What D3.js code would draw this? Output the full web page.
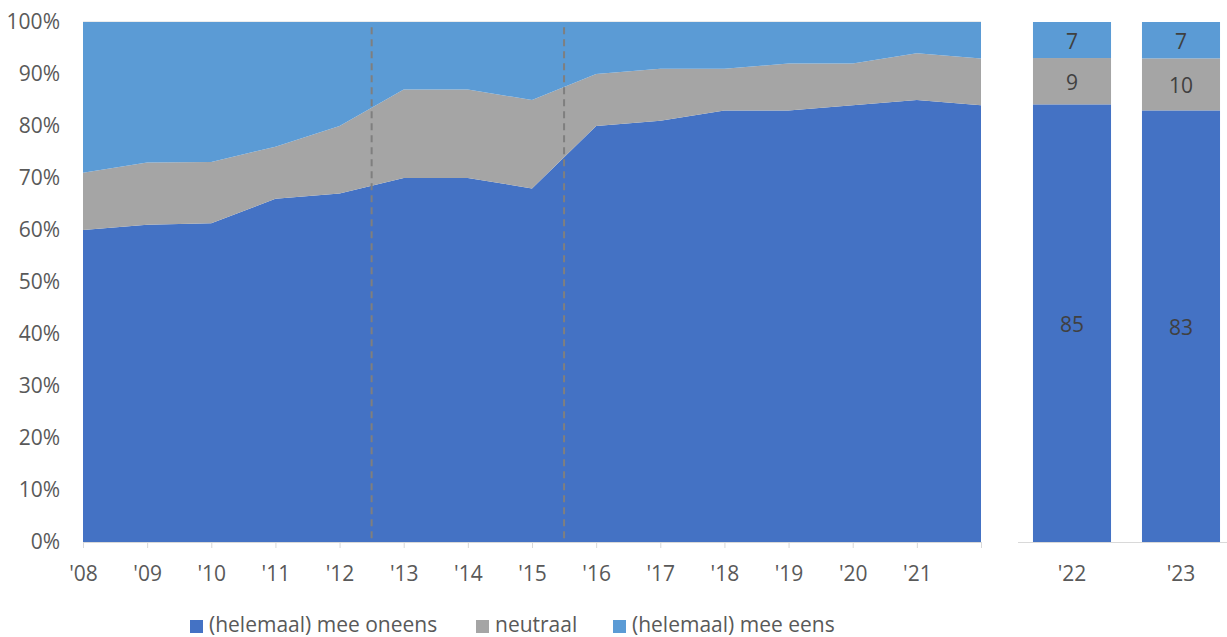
<!DOCTYPE html>
<html><head><meta charset="utf-8">
<script src="https://cdn.jsdelivr.net/npm/d3@7"></script>
<style>html,body{margin:0;padding:0;background:#fff;}svg{display:block;}text{font-family:"Open Sans",sans-serif;}</style>
</head><body>
<svg id="chart" width="1227" height="637"></svg>
<script>
// ---- data ----
const areaYears = ["2008","2009","2010","2011","2012","2013","2014","2015","2016","2017","2018","2019","2020","2021","2022"];
const areaTickLabels = ["'08","'09","'10","'11","'12","'13","'14","'15","'16","'17","'18","'19","'20","'21",""];
const areaOneens   = [60, 61, 61.3, 66, 67, 70, 70, 68, 80, 81, 83, 83, 84, 85, 84];
const areaNeutraal = [11, 12, 11.8, 10, 13, 17, 17, 17, 10, 10, 8, 9, 8, 9, 9];
const areaEens     = [29, 27, 26.9, 24, 20, 13, 13, 15, 10, 9, 9, 8, 8, 6, 7];
const barYears = ["'22","'23"];
const barOneens = [85, 83];
const barNeutraal = [9, 10];
const barEens = [7, 7];
const seriesNames = ["(helemaal) mee oneens","neutraal","(helemaal) mee eens"];
const yTicks = [0,0.1,0.2,0.3,0.4,0.5,0.6,0.7,0.8,0.9,1];
const breakAfter = ["2012","2015"]; // dashed separators between these and next year

const colors = ["#4472C4","#A5A5A5","#5B9BD5"];
const keys = ["oneens","neutraal","eens"];
const textCol = "#595959";
const fs = 21;

const svg = d3.select("#chart");
const y = d3.scaleLinear().domain([0,1]).range([542,22]);
const x = d3.scalePoint().domain(areaYears).range([83,981]);
const xb = d3.scaleBand().domain(barYears).range([1017.5,1235.5]).paddingInner(0.284).paddingOuter(0.142);

// area data
const areaData = areaYears.map((yr,i)=>({year:yr, oneens:areaOneens[i], neutraal:areaNeutraal[i], eens:areaEens[i]}));
const stack = d3.stack().keys(keys).offset(d3.stackOffsetExpand);
const aSeries = stack(areaData);

// gridline at top
svg.append("line").attr("x1",x.range()[0]).attr("x2",x.range()[1])
  .attr("y1",y(1)).attr("y2",y(1)).attr("stroke","#D9D9D9").attr("stroke-width",1);

const area = d3.area().x(d=>x(d.data.year)).y0(d=>y(d[0])).y1(d=>y(d[1]));
svg.append("g").selectAll("path").data(aSeries).join("path")
  .attr("d",area).attr("fill",(d,i)=>colors[i]);

// dashed separators
const step = x.step();
svg.append("g").selectAll("line").data(breakAfter).join("line")
  .attr("x1",d=>x(d)+step/2).attr("x2",d=>x(d)+step/2)
  .attr("y1",y(0.99)).attr("y2",y(0))
  .attr("stroke","#7F7F7F").attr("stroke-width",2).attr("stroke-dasharray","7,5");

// bars
const barData = barYears.map((yr,i)=>({year:yr, oneens:barOneens[i], neutraal:barNeutraal[i], eens:barEens[i]}));
const bSeries = stack(barData);
const bg = svg.append("g");
bSeries.forEach((s,si)=>{
  bg.append("g").selectAll("rect").data(s).join("rect")
    .attr("x",d=>xb(d.data.year)).attr("width",xb.bandwidth())
    .attr("y",d=>y(d[1])).attr("height",d=>y(d[0])-y(d[1]))
    .attr("fill",colors[si]);
  bg.append("g").selectAll("text").data(s).join("text")
    .attr("x",d=>xb(d.data.year)+xb.bandwidth()/2)
    .attr("y",d=>(y(d[0])+y(d[1]))/2+1.5)
    .attr("dy","0.35em").attr("text-anchor","middle")
    .attr("font-size",fs).attr("fill","#404040")
    .text(d=>d.data[keys[si]]);
});

// left x axis
const xAxis = d3.axisBottom(x).tickSize(6).tickPadding(18).tickFormat((d,i)=>areaTickLabels[i]);
const gx = svg.append("g").attr("transform","translate(0,542)").call(xAxis);
gx.select(".domain").attr("stroke","#D9D9D9").attr("d","M83,0.5H981");
gx.selectAll(".tick line").attr("stroke","#D9D9D9");
gx.selectAll(".tick text").attr("fill",textCol).attr("font-size",fs).attr("font-family","Open Sans");

// right x axis
const xbAxis = d3.axisBottom(xb).tickSize(0).tickPadding(24);
const gxb = svg.append("g").attr("transform","translate(0,542)").call(xbAxis);
gxb.select(".domain").attr("stroke","#D9D9D9").attr("d","M1018,0.5H1227");
gxb.selectAll(".tick text").attr("fill",textCol).attr("font-size",fs).attr("font-family","Open Sans");

// y axis labels
const gy = svg.append("g").attr("transform","translate(60,0)")
  .call(d3.axisLeft(y).tickValues(yTicks).tickSize(0).tickPadding(0).tickFormat(d3.format(".0%")));
gy.select(".domain").remove();
gy.selectAll(".tick text").attr("fill",textCol).attr("font-size",fs).attr("font-family","Open Sans");

// legend
const legX = [190, 476, 613];
const lg = svg.append("g");
seriesNames.forEach((n,i)=>{
  lg.append("rect").attr("x",legX[i]).attr("y",620).attr("width",13).attr("height",13).attr("fill",colors[i]);
  lg.append("text").attr("x",legX[i]+19).attr("y",624.5).attr("dy","0.35em")
    .attr("font-size",fs).attr("fill",textCol).text(n);
});
</script>
</body></html>
